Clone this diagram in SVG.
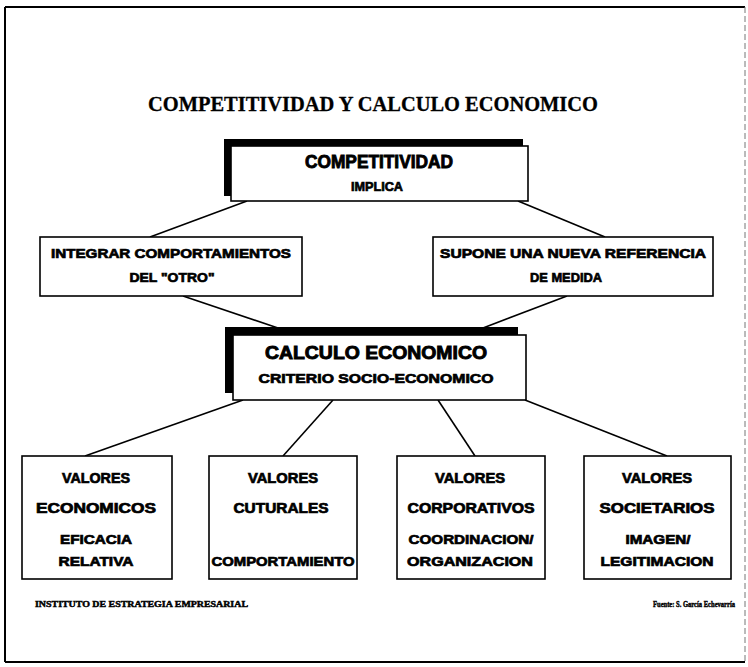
<svg xmlns="http://www.w3.org/2000/svg" width="748" height="667" viewBox="0 0 748 667">
  <style>
    .edge { stroke: #000; stroke-width: 2; fill: none; }
    .edge-faint { stroke: #777; stroke-width: 1; fill: none; stroke-dasharray: 6 3; }
    .box { fill: #fff; stroke: #000; stroke-width: 1.6; }
    .shadow { fill: #000; }
    .link { stroke: #000; stroke-width: 1.6; fill: none; }
    .title { font-family: "Liberation Serif", "Times New Roman", serif; font-weight: bold; font-size: 21px; fill: #000; stroke: #000; stroke-width: 0.3; }
    .t { font-family: "Liberation Sans", Arial, sans-serif; font-weight: bold; fill: #000; stroke: #000; stroke-width: 0.7; text-anchor: middle; }
    .big { font-size: 17.5px; stroke-width: 0.9; }
    .mid { font-size: 13px; }
    .val { font-size: 14px; }
    .foot { font-family: "Liberation Serif", "Times New Roman", serif; font-weight: bold; font-size: 7.5px; fill: #000; stroke: #000; stroke-width: 0.4; }
  </style>

  <!-- page frame -->
  <g id="frame">
    <line class="edge" x1="5" y1="7" x2="745" y2="7"/>
    <line class="edge" x1="5" y1="7" x2="5" y2="662"/>
    <line class="edge" x1="5" y1="662" x2="745" y2="662"/>
    <line class="edge-faint" x1="745" y1="7" x2="745" y2="662"/>
  </g>

  <!-- heading -->
  <text class="title" x="148" y="111" textLength="450" lengthAdjust="spacingAndGlyphs">COMPETITIVIDAD Y CALCULO ECONOMICO</text>

  <!-- connectors -->
  <g id="connectors">
    <line class="link" x1="247" y1="201" x2="150" y2="237"/>
    <line class="link" x1="518" y1="201" x2="605" y2="237"/>
    <line class="link" x1="183" y1="296" x2="278" y2="328"/>
    <line class="link" x1="567" y1="296" x2="483" y2="328"/>
    <line class="link" x1="243" y1="400" x2="85" y2="456"/>
    <line class="link" x1="333" y1="400" x2="283" y2="456"/>
    <line class="link" x1="438" y1="400" x2="475" y2="456"/>
    <line class="link" x1="525" y1="400" x2="667" y2="456"/>
  </g>

  <!-- top node -->
  <g id="competitividad">
    <rect class="shadow" x="224" y="139" width="299" height="57"/>
    <rect class="box" x="231" y="146" width="297" height="55"/>
    <text class="t big" x="379" y="168" textLength="148" lengthAdjust="spacingAndGlyphs">COMPETITIVIDAD</text>
    <text class="t mid" x="377" y="191" textLength="52" lengthAdjust="spacingAndGlyphs">IMPLICA</text>
  </g>

  <g id="integrar">
    <rect class="box" x="40" y="237" width="262" height="59"/>
    <text class="t mid" x="171" y="258" textLength="240" lengthAdjust="spacingAndGlyphs">INTEGRAR COMPORTAMIENTOS</text>
    <text class="t mid" x="172" y="282" textLength="85" lengthAdjust="spacingAndGlyphs">DEL "OTRO"</text>
  </g>

  <g id="supone">
    <rect class="box" x="433" y="237" width="280" height="59"/>
    <text class="t mid" x="573" y="258" textLength="266" lengthAdjust="spacingAndGlyphs">SUPONE UNA NUEVA REFERENCIA</text>
    <text class="t mid" x="566" y="282" textLength="72" lengthAdjust="spacingAndGlyphs">DE MEDIDA</text>
  </g>

  <!-- central node -->
  <g id="calculo">
    <rect class="shadow" x="225" y="327" width="293" height="66"/>
    <rect class="box" x="233" y="335" width="293" height="65"/>
    <text class="t big" x="376" y="359" textLength="222" lengthAdjust="spacingAndGlyphs">CALCULO ECONOMICO</text>
    <text class="t mid" x="376" y="383" textLength="235" lengthAdjust="spacingAndGlyphs">CRITERIO SOCIO-ECONOMICO</text>
  </g>

  <!-- value nodes -->
  <g id="valores-economicos">
    <rect class="box" x="22" y="456" width="150" height="123"/>
    <text class="t val" x="96" y="483" textLength="68" lengthAdjust="spacingAndGlyphs">VALORES</text>
    <text class="t val" x="96" y="513" textLength="120" lengthAdjust="spacingAndGlyphs">ECONOMICOS</text>
    <text class="t mid" x="96" y="544" textLength="72" lengthAdjust="spacingAndGlyphs">EFICACIA</text>
    <text class="t mid" x="96" y="566" textLength="75" lengthAdjust="spacingAndGlyphs">RELATIVA</text>
  </g>

  <g id="valores-culturales">
    <rect class="box" x="209" y="456" width="148" height="123"/>
    <text class="t val" x="283" y="483" textLength="70" lengthAdjust="spacingAndGlyphs">VALORES</text>
    <text class="t val" x="281" y="513" textLength="95" lengthAdjust="spacingAndGlyphs">CUTURALES</text>
    <text class="t mid" x="283" y="566" textLength="143" lengthAdjust="spacingAndGlyphs">COMPORTAMIENTO</text>
  </g>

  <g id="valores-corporativos">
    <rect class="box" x="397" y="456" width="148" height="123"/>
    <text class="t val" x="470" y="483" textLength="70" lengthAdjust="spacingAndGlyphs">VALORES</text>
    <text class="t val" x="471" y="513" textLength="127" lengthAdjust="spacingAndGlyphs">CORPORATIVOS</text>
    <text class="t mid" x="471" y="544" textLength="125" lengthAdjust="spacingAndGlyphs">COORDINACION/</text>
    <text class="t mid" x="470" y="566" textLength="126" lengthAdjust="spacingAndGlyphs">ORGANIZACION</text>
  </g>

  <g id="valores-societarios">
    <rect class="box" x="584" y="456" width="147" height="123"/>
    <text class="t val" x="657" y="483" textLength="70" lengthAdjust="spacingAndGlyphs">VALORES</text>
    <text class="t val" x="657" y="513" textLength="115" lengthAdjust="spacingAndGlyphs">SOCIETARIOS</text>
    <text class="t mid" x="658" y="544" textLength="65" lengthAdjust="spacingAndGlyphs">IMAGEN/</text>
    <text class="t mid" x="657" y="566" textLength="113" lengthAdjust="spacingAndGlyphs">LEGITIMACION</text>
  </g>

  <!-- footer -->
  <text class="foot" x="35" y="607" textLength="213" lengthAdjust="spacingAndGlyphs">INSTITUTO DE ESTRATEGIA EMPRESARIAL</text>
  <text class="foot" x="653" y="607" textLength="82" lengthAdjust="spacingAndGlyphs">Fuente: S. García Echevarría</text>
</svg>
